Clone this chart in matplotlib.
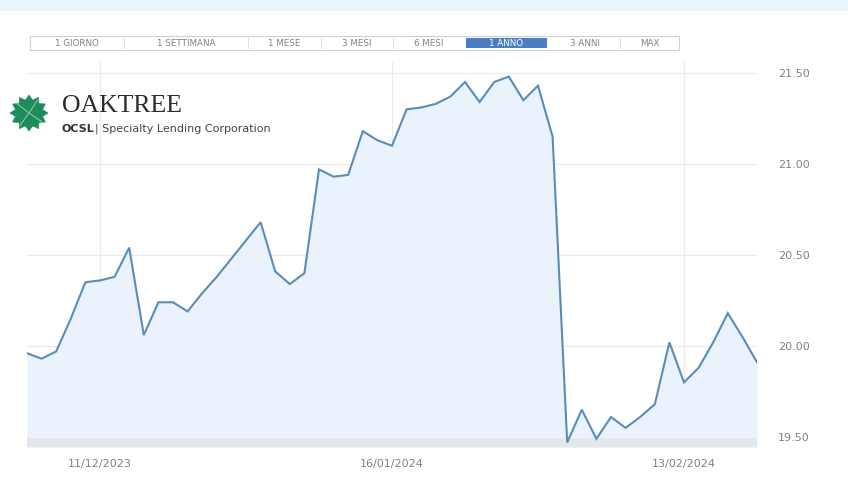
import matplotlib
matplotlib.use("Agg")
import matplotlib.pyplot as plt
from matplotlib.patches import Rectangle, Polygon
import numpy as np

# daily closing prices (EUR), one per session
prices = [19.96, 19.93, 19.97, 20.15, 20.35, 20.36, 20.38, 20.54, 20.06, 20.24,
          20.24, 20.19, 20.29, 20.38, 20.48, 20.58, 20.68, 20.41, 20.34, 20.40,
          20.97, 20.93, 20.94, 21.18, 21.13, 21.10, 21.30, 21.31, 21.33, 21.37,
          21.45, 21.34, 21.45, 21.48, 21.35, 21.43, 21.15, 19.47, 19.65, 19.49,
          19.61, 19.55, 19.61, 19.68, 20.02, 19.80, 19.88, 20.02, 20.18, 20.05,
          19.91]
date_ticks = [5, 25, 45]
date_labels = ["11/12/2023", "16/01/2024", "13/02/2024"]
price_ticks = [19.5, 20.0, 20.5, 21.0, 21.5]
periods = ["1 GIORNO", "1 SETTIMANA", "1 MESE", "3 MESI", "6 MESI",
           "1 ANNO", "3 ANNI", "MAX"]
selected = "1 ANNO"

W, H = 848, 480
LINE = "#5a8cb8"
FILL = "#eaf3fb"
GRID = "#ebebeb"
LABEL = "#7d8288"


def fx(x):
    return x / W


def fy(y):
    return 1 - y / H


fig = plt.figure(figsize=(W / 100, H / 100), dpi=100)

# light strip along the top of the widget
fig.add_artist(Rectangle((0, fy(11)), 1, 11 / H, transform=fig.transFigure,
                         facecolor="#eaf4fb", edgecolor="none"))

# period selector
edges = [30, 124, 248, 321, 393, 464, 549, 620, 679]
bar_top, bar_bot = 36, 50
fig.add_artist(Rectangle((fx(edges[0]), fy(bar_bot)), fx(edges[-1] - edges[0]),
                         (bar_bot - bar_top) / H, transform=fig.transFigure,
                         facecolor="white", edgecolor="#c9d1db", linewidth=0.8))
for i, name in enumerate(periods):
    x0, x1 = edges[i], edges[i + 1]
    color = LABEL
    if name == selected:
        fig.add_artist(Rectangle((fx(x0 + 2), fy(bar_bot - 2)), fx(x1 - x0 - 4),
                                 (bar_bot - bar_top - 4) / H,
                                 transform=fig.transFigure,
                                 facecolor="#4a7dc2", edgecolor="none"))
        color = "white"
    elif i > 0 and periods[i - 1] != selected:
        fig.add_artist(plt.Line2D([fx(x0), fx(x0)], [fy(bar_bot - 2), fy(bar_top + 2)],
                                  transform=fig.transFigure, color="#d5dae0", lw=0.6))
    fig.text(fx((x0 + x1) / 2), fy((bar_top + bar_bot) / 2), name,
             ha="center", va="center", fontsize=6.3, color=color,
             family="DejaVu Sans")

ax = fig.add_axes([fx(27), fy(447), fx(730), (447 - 62) / H])
x = np.arange(len(prices))
ax.fill_between(x, prices, 19.3, color=FILL, lw=0, zorder=1)
ax.axhspan(19.3, 19.494, color="#e5e8eb", lw=0, zorder=1.5)
ax.plot(x, prices, color=LINE, lw=1.5, solid_joinstyle="miter", zorder=3)

ax.set_xlim(0, len(prices) - 1)
ax.set_ylim(19.445, 21.56)
ax.set_xticks(date_ticks)
ax.set_xticklabels(date_labels)
ax.set_yticks(price_ticks)
ax.set_yticklabels([f"{v:.2f}" for v in price_ticks])
ax.yaxis.tick_right()
ax.tick_params(axis="both", length=0, labelsize=8, labelcolor=LABEL)
ax.tick_params(axis="x", pad=9)
ax.tick_params(axis="y", pad=15)
for lab in ax.get_xticklabels() + ax.get_yticklabels():
    lab.set_family("DejaVu Sans")
ax.grid(True, color=GRID, lw=0.9, zorder=0)
ax.set_axisbelow(True)
for s in ax.spines.values():
    s.set_visible(False)
ax.set_facecolor("none")

# company logo: lobed green leaf plus name
cx, cy, r = 29, 113, 19
ang = np.linspace(0, 2 * np.pi, 25)[:-1]
rad = np.where(np.arange(len(ang)) % 2 == 0, r, r * 0.74)
leaf = [(fx(cx + rr * np.cos(a)), fy(cy + rr * np.sin(a) * 0.95)) for a, rr in zip(ang, rad)]
fig.add_artist(Polygon(leaf, closed=True, transform=fig.transFigure,
                       facecolor="#1f8a5c", edgecolor="#2a9a6a", lw=0.5))
for a in [0.6, 2.2, 3.8, 5.3]:
    fig.add_artist(plt.Line2D([fx(cx), fx(cx + r * 0.8 * np.cos(a))],
                              [fy(cy), fy(cy + r * 0.8 * np.sin(a))],
                              transform=fig.transFigure, color="#7fcaa0", lw=0.8))
fig.text(fx(62), fy(112), "OAKTREE", fontsize=18.5, family="Liberation Serif",
         color="#2b2b2b", ha="left", va="baseline")
fig.text(fx(62), fy(132), "OCSL", fontsize=8, family="DejaVu Sans",
         weight="bold", color="#333333", ha="left", va="baseline")
fig.text(fx(95), fy(132), "| Specialty Lending Corporation", fontsize=8,
         family="DejaVu Sans", color="#444444", ha="left", va="baseline")

fig.savefig("out.png", dpi=100)
